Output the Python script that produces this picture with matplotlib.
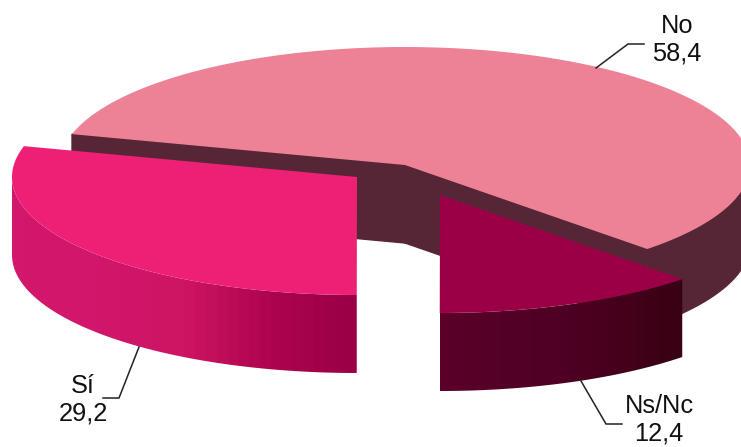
import numpy as np
import matplotlib
matplotlib.use("Agg")
import matplotlib.pyplot as plt
from matplotlib.colors import LinearSegmentedColormap
from matplotlib.patches import Polygon

labels = ["No", "Sí", "Ns/Nc"]
values = [58.4, 29.2, 12.4]

START_ANGLE = -45.4  # where the first slice begins, degrees
RX = 345
RY = 118
DEPTH = 78
centers = [(405, 165), (357, 177), (440, 195)]  # each slice is pulled apart

TOP_COLORS = ["#ed8297", "#ee2075", "#9b0047"]
WALL_COLOR = "#562636"
side_ramps = [
    None,
    ["#d3176c", "#d2166b", "#cd1563", "#ae0450", "#9b0047"],
    ["#5a0029", "#4f0023", "#3a0014"],
]

label_pos = [(677, 40), (83, 400), (659, 420)]
leaders = [
    [(596, 68), (628, 44), (644, 44)],
    [(139, 347), (119, 398), (103, 398)],
    [(581, 381), (606, 424), (622, 424)],
]


def arc(center, t0, t1, n=200):
    t = np.radians(np.linspace(t0, t1, n))
    return np.column_stack([center[0] + RX * np.cos(t), center[1] - RY * np.sin(t)])


def side_points(center, t0, t1):
    top = arc(center, t0, t1)
    bottom = top[::-1] + [0, DEPTH]
    return np.vstack([top, bottom])


def draw_side(ax, center, t0, t1, ramp):
    # outer rim only shows on the front half of the ellipse
    t0, t1 = max(t0, 180), min(t1, 360)
    pts = side_points(center, t0, t1)
    clip = Polygon(pts, closed=True, fc="none", ec="none")
    ax.add_patch(clip)
    cmap = LinearSegmentedColormap.from_list("side", ramp, N=32)
    im = ax.imshow(np.linspace(0, 1, 256)[None, :], cmap=cmap, aspect="auto", interpolation="nearest",
                   extent=[pts[:, 0].min(), pts[:, 0].max(), pts[:, 1].max(), pts[:, 1].min()], zorder=2)
    im.set_clip_path(clip)


fig = plt.figure(figsize=(7.41, 4.47), dpi=100)
ax = fig.add_axes([0, 0, 1, 1])

angles = START_ANGLE + np.concatenate([[0], np.cumsum(values)]) * 3.6
c = centers[0]
a0, a1 = angles[0], angles[1]

# big slice: inner walls and rim first, the rest goes on top
for t in (a0, a1):
    edge = arc(c, t, t, 1)[0]
    wall = [c, edge, edge + [0, DEPTH], (c[0], c[1] + DEPTH)]
    ax.add_patch(Polygon(wall, closed=True, fc=WALL_COLOR, ec=WALL_COLOR, lw=1, zorder=1))
ax.add_patch(Polygon(side_points(c, a0, 0), closed=True, fc=WALL_COLOR, ec=WALL_COLOR, lw=1, zorder=1))
ax.add_patch(Polygon(np.vstack([[c], arc(c, a0, a1)]), closed=True, fc=TOP_COLORS[0], ec="none", zorder=1.5))

for i in (1, 2):
    c = centers[i]
    draw_side(ax, c, angles[i], angles[i + 1], side_ramps[i])
    top = np.vstack([[c], arc(c, angles[i], angles[i + 1])])
    ax.add_patch(Polygon(top, closed=True, fc=TOP_COLORS[i], ec="none", zorder=3))

for i, name in enumerate(labels):
    text = f"{name}\n{str(values[i]).replace('.', ',')}"
    ax.text(label_pos[i][0], label_pos[i][1], text, ha="center", va="center", fontsize=18.3,
            family="Liberation Sans", color="#111111", linespacing=1.19, zorder=5)
    xs, ys = zip(*leaders[i])
    ax.plot(xs, ys, color="#222222", lw=1.1, solid_joinstyle="miter", zorder=4)

ax.set_xlim(0, 741)
ax.set_ylim(447, 0)
ax.axis("off")
fig.savefig("out.png", dpi=100)
